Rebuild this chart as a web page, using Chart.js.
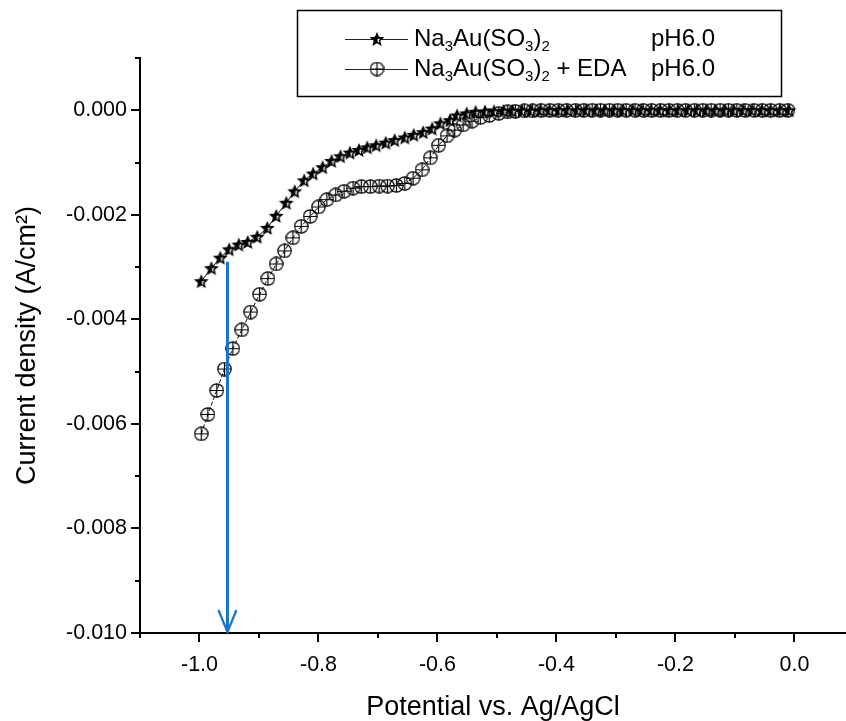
<!DOCTYPE html>
<html>
<head>
<meta charset="utf-8">
<title>Polarization curves</title>
<script src="https://cdn.jsdelivr.net/npm/chart.js@4.4.0/dist/chart.umd.min.js"></script>
<style>
  html, body { margin: 0; padding: 0; background: #fff; }
</style>
</head>
<body>
<canvas id="curveChart" width="846" height="721"></canvas>
<script>
// Na3Au(SO3)2 pH6.0 (étoiles)
const potentialStar = [
  -0.997, -0.980, -0.965, -0.950, -0.934, -0.919, -0.903, -0.886, -0.871, -0.854,
  -0.840, -0.824, -0.809, -0.793, -0.778, -0.763, -0.747, -0.732, -0.718, -0.703,
  -0.687, -0.672, -0.655, -0.640, -0.624, -0.609, -0.595, -0.579, -0.567, -0.551,
  -0.536, -0.520, -0.505, -0.489, -0.474, -0.458, -0.443, -0.427, -0.412, -0.396,
  -0.381, -0.365, -0.350, -0.334, -0.319, -0.303, -0.288, -0.272, -0.257, -0.241,
  -0.226, -0.210, -0.195, -0.179, -0.164, -0.148, -0.133, -0.117, -0.102, -0.086,
  -0.071, -0.055, -0.040, -0.024, -0.009
];
const currentStar = [
  -0.00327, -0.00302, -0.00282, -0.00266, -0.00257, -0.00252, -0.00242, -0.00225, -0.00202, -0.00177,
  -0.00155, -0.00134, -0.00121, -0.00109, -0.00097, -0.00088, -0.00081, -0.00076, -0.00071, -0.00067,
  -0.00062, -0.00057, -0.00052, -0.00047, -0.00042, -0.00035, -0.00025, -0.00019, -0.00010, -0.00006,
  -0.00003, -0.00002, -0.00002, -0.00001, -0.00001, -0.00001, -0.00001, 0, 0, 0,
  0, 0, 0, 0, 0, 0, 0, 0, 0, 0,
  0, 0, 0, 0, 0, 0, 0, 0, 0, 0,
  0, 0, 0, 0, 0
];

// Na3Au(SO3)2 + EDA pH6.0 (cercles)
const potentialEda = [
  -0.997, -0.986, -0.971, -0.958, -0.944, -0.929, -0.914, -0.899, -0.885, -0.871,
  -0.857, -0.843, -0.829, -0.814, -0.800, -0.786, -0.771, -0.757, -0.742, -0.728,
  -0.713, -0.698, -0.684, -0.669, -0.655, -0.641, -0.626, -0.612, -0.598, -0.584,
  -0.571, -0.557, -0.542, -0.528, -0.513, -0.497, -0.482, -0.469, -0.454, -0.440,
  -0.426, -0.411, -0.397, -0.383, -0.368, -0.354, -0.340, -0.326, -0.311, -0.297,
  -0.283, -0.268, -0.254, -0.240, -0.225, -0.211, -0.197, -0.183, -0.168, -0.154,
  -0.140, -0.125, -0.111, -0.097, -0.083, -0.068, -0.054, -0.040, -0.025, -0.011
];
const currentEda = [
  -0.00619, -0.00582, -0.00536, -0.00495, -0.00456, -0.00420, -0.00386, -0.00352, -0.00322, -0.00294,
  -0.00269, -0.00244, -0.00222, -0.00203, -0.00185, -0.00171, -0.00162, -0.00155, -0.00149, -0.00146,
  -0.00146, -0.00145, -0.00145, -0.00144, -0.00140, -0.00130, -0.00114, -0.00091, -0.00067, -0.00049,
  -0.00038, -0.00028, -0.00021, -0.00014, -0.00010, -0.00006, -0.00003, -0.00002, -0.00001, -0.00001,
  0, 0, 0, 0, 0, 0, 0, 0, 0, 0,
  0, 0, 0, 0, 0, 0, 0, 0, 0, 0,
  0, 0, 0, 0, 0, 0, 0, 0, 0, 0
];

// graduations
const xMajorTicks = [-1.0, -0.8, -0.6, -0.4, -0.2, 0.0];
const xMinorTicks = [-1.1, -0.9, -0.7, -0.5, -0.3, -0.1];
const yMajorTicks = [0.000, -0.002, -0.004, -0.006, -0.008, -0.010];
const yMinorTicks = [0.001, -0.001, -0.003, -0.005, -0.007, -0.009];

const legendRows = ['Na_3Au(SO_3)_2', 'Na_3Au(SO_3)_2 + EDA'];
const legendPh = ['pH6.0', 'pH6.0'];
const xTitle = 'Potential vs. Ag/AgCl';
const yTitle = 'Current density (A/cm\u00B2)';

// flèche bleue (en unités des axes)
const arrowPotential = -0.953;
const arrowFrom = -0.0029;
const arrowTo = -0.010;

const FONT = '"Liberation Sans", Arial, sans-serif';

// Marqueur étoile (noire avec une partie blanche)
function makeStar(size) {
    const c = document.createElement('canvas');
    c.width = c.height = size;
    const g = c.getContext('2d');
    const cx = size / 2, cy = size / 2 + 0.7;
    const R = size / 2 - 0.2, r = R * 0.45;
    const path = (rr, RR) => {
        g.beginPath();
        for (let i = 0; i < 10; i++) {
            const a = -Math.PI / 2 + i * Math.PI / 5;
            const rad = i % 2 ? rr : RR;
            g.lineTo(cx + rad * Math.cos(a), cy + rad * Math.sin(a));
        }
        g.closePath();
    };
    path(r, R);
    g.fillStyle = '#000';
    g.fill();
    g.save();
    g.beginPath();
    g.rect(cx + 0.6, cy - 1, size, size);
    g.clip();
    path(r * 0.5, R * 0.5);
    g.fillStyle = '#fff';
    g.fill();
    g.restore();
    return c;
}

// Marqueur cercle avec croix
function makeCircle(size) {
    const c = document.createElement('canvas');
    c.width = c.height = size;
    const g = c.getContext('2d');
    const cx = size / 2, cy = size / 2, r = size / 2 - 0.8;
    g.strokeStyle = '#000';
    g.lineWidth = 1.2;
    g.beginPath();
    g.arc(cx, cy, r, 0, Math.PI * 2);
    g.stroke();
    g.beginPath();
    g.moveTo(cx - r, cy); g.lineTo(cx + r, cy);
    g.moveTo(cx, cy - r); g.lineTo(cx, cy + r);
    g.stroke();
    return c;
}

const starImg = makeStar(16);
const circleImg = makeCircle(15);

const toPoints = (xs, ys) => xs.map((x, i) => ({ x, y: ys[i] }));

// texte avec indices : "_3" => 3 en indice
function drawRich(ctx, str, x, y, size) {
    let cursor = x;
    for (let i = 0; i < str.length; i++) {
        let ch = str[i], sub = false;
        if (ch === '_') { ch = str[++i]; sub = true; }
        ctx.font = (sub ? Math.round(size * 0.64) : size) + 'px ' + FONT;
        ctx.fillText(ch, cursor, sub ? y + size * 0.32 : y);
        cursor += ctx.measureText(ch).width;
    }
}

// Graduations majeures / mineures + titre X + légende + flèche
const decorPlugin = {
    id: 'decor',
    afterDatasetsDraw(chart) {
        const { ctx, scales: { x, y } } = chart;
        const ax = x.getPixelForValue(arrowPotential);
        const y1 = y.getPixelForValue(arrowFrom);
        const y2 = y.getPixelForValue(arrowTo);
        ctx.save();
        ctx.strokeStyle = '#1874c8';
        ctx.lineWidth = 3;
        ctx.beginPath();
        ctx.moveTo(ax, y1);
        ctx.lineTo(ax, y2 - 1);
        ctx.stroke();
        ctx.lineWidth = 2.2;
        ctx.beginPath();
        ctx.moveTo(ax - 9, y2 - 23);
        ctx.lineTo(ax, y2 - 1);
        ctx.lineTo(ax + 9, y2 - 23);
        ctx.stroke();
        ctx.restore();
    },
    afterDraw(chart) {
        const { ctx, scales: { x, y }, chartArea } = chart;
        ctx.save();
        ctx.strokeStyle = '#000';
        ctx.lineWidth = 2;
        ctx.beginPath();
        xMajorTicks.forEach(v => { const p = Math.round(x.getPixelForValue(v)); ctx.moveTo(p, chartArea.bottom); ctx.lineTo(p, chartArea.bottom + 9); });
        xMinorTicks.forEach(v => { const p = Math.round(x.getPixelForValue(v)); ctx.moveTo(p, chartArea.bottom); ctx.lineTo(p, chartArea.bottom + 5); });
        yMajorTicks.forEach(v => { const p = Math.round(y.getPixelForValue(v)); ctx.moveTo(chartArea.left, p); ctx.lineTo(chartArea.left - 9, p); });
        yMinorTicks.forEach(v => { const p = Math.round(y.getPixelForValue(v)); ctx.moveTo(chartArea.left, p); ctx.lineTo(chartArea.left - 5, p); });
        ctx.stroke();

        // titre de l'axe X
        ctx.fillStyle = '#000';
        ctx.font = '27px ' + FONT;
        ctx.textAlign = 'center';
        ctx.textBaseline = 'alphabetic';
        ctx.fillText(xTitle, (chartArea.left + chartArea.right) / 2, 715);

        // légende
        ctx.lineWidth = 1.5;
        ctx.strokeRect(297.5, 10.5, 484, 86);
        ctx.textAlign = 'left';
        ctx.textBaseline = 'middle';
        const imgs = [starImg, circleImg];
        legendRows.forEach((label, i) => {
            const ry = 39 + i * 30;
            ctx.strokeStyle = '#222';
            ctx.lineWidth = 1;
            ctx.beginPath();
            ctx.moveTo(345, ry + 0.5);
            ctx.lineTo(408, ry + 0.5);
            ctx.stroke();
            const img = imgs[i];
            ctx.drawImage(img, 377 - img.width / 2, ry - img.height / 2);
            drawRich(ctx, label, 414, ry, 24);
            ctx.font = '24px ' + FONT;
            ctx.fillText(legendPh[i], 651, ry);
        });
        ctx.restore();
    }
};

(() => {
    const ctx = document.getElementById('curveChart').getContext('2d');
    new Chart(ctx, {
        type: 'line',
        data: {
            datasets: [{
                label: 'Na3Au(SO3)2 pH6.0',
                data: toPoints(potentialStar, currentStar),
                borderColor: '#111',
                borderWidth: 1,
                pointStyle: starImg,
                pointRadius: 8,
                tension: 0
            }, {
                label: 'Na3Au(SO3)2 + EDA pH6.0',
                data: toPoints(potentialEda, currentEda),
                borderColor: '#111',
                borderWidth: 1,
                borderDash: [4, 2],
                pointStyle: circleImg,
                pointRadius: 8,
                tension: 0
            }]
        },
        options: {
            responsive: false,
            animation: false,
            devicePixelRatio: 1,
            layout: { autoPadding: false, padding: { top: 58, right: 0, left: 0, bottom: 0 } },
            plugins: {
                legend: { display: false },
                tooltip: { enabled: false }
            },
            scales: {
                x: {
                    type: 'linear',
                    min: -1.1,
                    max: 0.0866,
                    grid: { display: false, drawTicks: false },
                    border: { display: true, color: '#000', width: 2 },
                    afterBuildTicks: s => { s.ticks = xMajorTicks.map(v => ({ value: v })); },
                    afterFit: s => { s.height = 88; s.paddingLeft = 0; s.paddingRight = 0; },
                    ticks: {
                        autoSkip: false,
                        maxRotation: 0,
                        padding: 19,
                        color: '#000',
                        font: { family: FONT, size: 21.5 },
                        callback: v => v.toFixed(1)
                    }
                },
                y: {
                    type: 'linear',
                    min: -0.010,
                    max: 0.001,
                    grid: { display: false, drawTicks: false },
                    border: { display: true, color: '#000', width: 2 },
                    afterBuildTicks: s => { s.ticks = yMajorTicks.map(v => ({ value: v })); },
                    afterFit: s => { s.width = 140; },
                    ticks: {
                        autoSkip: false,
                        padding: 13,
                        color: '#000',
                        font: { family: FONT, size: 21.5 },
                        callback: v => v.toFixed(3)
                    },
                    title: {
                        display: true,
                        text: yTitle,
                        color: '#000',
                        padding: { top: 11, bottom: 0 },
                        font: { family: FONT, size: 27 }
                    }
                }
            }
        },
        plugins: [decorPlugin]
    });
})();
</script>
</body>
</html>
